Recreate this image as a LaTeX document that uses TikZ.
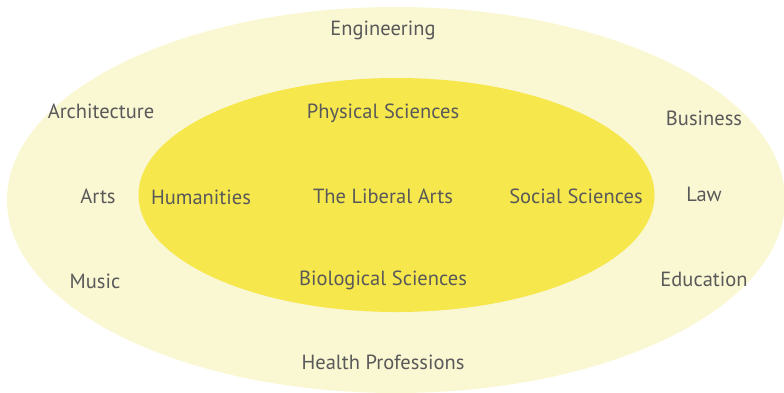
\documentclass[tikz,border=0pt]{standalone}
\usepackage{fontspec}
\setmainfont{PT Sans}
\definecolor{outerfill}{HTML}{FAF7D3}
\definecolor{innerfill}{HTML}{F6E74C}
\definecolor{labelgray}{HTML}{595959}
\begin{document}
\begin{tikzpicture}[x=1pt,y=-1pt,
  field/.style={text=labelgray,font=\fontsize{20.5}{24}\selectfont,inner sep=0pt}]
\useasboundingbox (0,0) rectangle (784,392);
\fill[outerfill] (396,200) ellipse [x radius=389, y radius=193];
\fill[innerfill] (396.5,195) ellipse [x radius=258, y radius=117];

\node[field] (engineering) at (383,30) {Engineering};
\node[field] (architecture) at (101,111) {Architecture};
\node[field] (physical) at (383,113) {Physical Sciences};
\node[field] (business) at (704,118) {Business};
\node[field] (arts) at (98,196) {Arts};
\node[field] (humanities) at (201,197) {Humanities};
\node[field] (liberal) at (383,196) {The Liberal Arts};
\node[field] (social) at (576,196) {Social Sciences};
\node[field] (law) at (704,194) {Law};
\node[field] (music) at (95,281) {Music};
\node[field] (biological) at (383,280) {Biological Sciences};
\node[field] (education) at (704,279) {Education};
\node[field] (health) at (383,362) {Health Professions};
\end{tikzpicture}
\end{document}
